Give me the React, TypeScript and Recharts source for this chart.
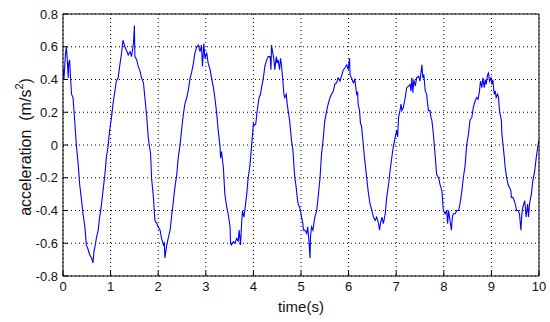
import React from 'react';
import { LineChart, Line, XAxis, YAxis, CartesianGrid, Label } from 'recharts';

// time (s)
const time = [
  0.00, 0.02, 0.05, 0.07, 0.09, 0.11, 0.12, 0.14, 0.16, 0.18, 0.21, 0.25, 0.28, 0.32, 0.35, 0.39, 0.42, 0.46, 0.49, 0.53,
  0.56, 0.60, 0.63, 0.65, 0.68, 0.70, 0.74, 0.77, 0.81, 0.84, 0.88, 0.91, 0.95, 0.98, 1.02, 1.05, 1.09, 1.12, 1.16, 1.19,
  1.23, 1.26, 1.30, 1.33, 1.37, 1.41, 1.44, 1.48, 1.50, 1.51, 1.55, 1.58, 1.62, 1.65, 1.69, 1.72, 1.76, 1.79, 1.81, 1.84,
  1.86, 1.90, 1.93, 1.97, 2.00, 2.04, 2.07, 2.11, 2.13, 2.14, 2.18, 2.21, 2.25, 2.28, 2.32, 2.35, 2.39, 2.42, 2.46, 2.49,
  2.53, 2.56, 2.60, 2.63, 2.67, 2.70, 2.74, 2.77, 2.81, 2.84, 2.88, 2.91, 2.93, 2.96, 2.98, 3.02, 3.05, 3.09, 3.12, 3.16,
  3.19, 3.23, 3.26, 3.30, 3.31, 3.33, 3.37, 3.40, 3.44, 3.47, 3.51, 3.52, 3.54, 3.58, 3.61, 3.65, 3.68, 3.70, 3.73, 3.75,
  3.77, 3.80, 3.82, 3.86, 3.89, 3.93, 3.96, 4.00, 4.02, 4.05, 4.08, 4.12, 4.15, 4.17, 4.21, 4.24, 4.28, 4.31, 4.35, 4.37,
  4.38, 4.41, 4.43, 4.45, 4.48, 4.50, 4.52, 4.55, 4.57, 4.59, 4.62, 4.64, 4.66, 4.69, 4.71, 4.73, 4.76, 4.78, 4.80, 4.83,
  4.85, 4.87, 4.90, 4.92, 4.94, 4.97, 4.99, 5.01, 5.04, 5.05, 5.08, 5.12, 5.14, 5.16, 5.19, 5.20, 5.22, 5.25, 5.27, 5.29,
  5.33, 5.36, 5.40, 5.43, 5.47, 5.50, 5.54, 5.57, 5.61, 5.64, 5.68, 5.71, 5.75, 5.78, 5.82, 5.85, 5.89, 5.92, 5.96, 5.99,
  6.02, 6.03, 6.06, 6.10, 6.13, 6.17, 6.19, 6.20, 6.23, 6.25, 6.27, 6.31, 6.33, 6.35, 6.38, 6.41, 6.45, 6.49, 6.52, 6.56,
  6.59, 6.63, 6.65, 6.67, 6.70, 6.73, 6.77, 6.80, 6.84, 6.87, 6.91, 6.94, 6.98, 7.01, 7.03, 7.05, 7.08, 7.10, 7.12, 7.15,
  7.19, 7.22, 7.26, 7.29, 7.31, 7.33, 7.35, 7.37, 7.40, 7.43, 7.47, 7.50, 7.54, 7.56, 7.58, 7.61, 7.64, 7.66, 7.68, 7.71,
  7.73, 7.75, 7.78, 7.80, 7.82, 7.85, 7.89, 7.92, 7.96, 7.99, 8.03, 8.06, 8.08, 8.10, 8.13, 8.16, 8.18, 8.20, 8.24, 8.27,
  8.31, 8.34, 8.38, 8.41, 8.45, 8.48, 8.52, 8.55, 8.59, 8.62, 8.66, 8.69, 8.72, 8.75, 8.77, 8.80, 8.82, 8.85, 8.87, 8.89,
  8.92, 8.94, 8.96, 8.99, 9.01, 9.03, 9.06, 9.08, 9.10, 9.13, 9.15, 9.17, 9.21, 9.22, 9.24, 9.27, 9.29, 9.32, 9.35, 9.38,
  9.41, 9.42, 9.45, 9.48, 9.50, 9.53, 9.56, 9.59, 9.62, 9.64, 9.66, 9.70, 9.73, 9.76, 9.78, 9.80, 9.84, 9.87, 9.91, 9.94,
  9.98, 10.00,
];

// acceleration (m/s^2)
const accel = [
  0.47, 0.40, 0.55, 0.60, 0.52, 0.41, 0.50, 0.52, 0.40, 0.31, 0.29, 0.13, 0.00, -0.12, -0.24, -0.34, -0.42, -0.50, -0.61, -0.64,
  -0.67, -0.69, -0.72, -0.65, -0.61, -0.57, -0.52, -0.44, -0.36, -0.28, -0.18, -0.08, 0.00, 0.09, 0.17, 0.25, 0.33, 0.39, 0.41, 0.48,
  0.56, 0.64, 0.60, 0.58, 0.55, 0.57, 0.54, 0.62, 0.73, 0.54, 0.52, 0.48, 0.45, 0.41, 0.38, 0.29, 0.17, 0.05, 0.00, -0.05,
  -0.20, -0.32, -0.46, -0.48, -0.50, -0.52, -0.57, -0.61, -0.60, -0.69, -0.61, -0.57, -0.52, -0.44, -0.34, -0.26, -0.18, -0.08, 0.00, 0.09,
  0.19, 0.25, 0.29, 0.33, 0.41, 0.44, 0.50, 0.56, 0.60, 0.61, 0.57, 0.61, 0.48, 0.62, 0.53, 0.56, 0.50, 0.46, 0.41, 0.35,
  0.29, 0.19, 0.09, -0.01, -0.08, -0.04, -0.14, -0.30, -0.38, -0.42, -0.50, -0.60, -0.61, -0.59, -0.60, -0.57, -0.59, -0.52, -0.61, -0.49,
  -0.40, -0.44, -0.40, -0.30, -0.20, -0.12, -0.01, 0.13, 0.12, 0.13, 0.21, 0.29, 0.31, 0.35, 0.41, 0.48, 0.52, 0.54, 0.54, 0.46,
  0.61, 0.56, 0.52, 0.46, 0.54, 0.50, 0.52, 0.46, 0.53, 0.49, 0.39, 0.31, 0.29, 0.31, 0.25, 0.21, 0.15, 0.09, 0.03, -0.03,
  -0.12, -0.20, -0.26, -0.32, -0.36, -0.38, -0.40, -0.44, -0.48, -0.52, -0.52, -0.54, -0.50, -0.56, -0.69, -0.56, -0.50, -0.52, -0.48, -0.44,
  -0.40, -0.32, -0.20, -0.06, 0.05, 0.15, 0.21, 0.25, 0.29, 0.31, 0.33, 0.37, 0.38, 0.41, 0.39, 0.42, 0.46, 0.47, 0.49, 0.46,
  0.53, 0.43, 0.41, 0.38, 0.40, 0.31, 0.32, 0.25, 0.21, 0.13, 0.12, 0.00, -0.07, -0.12, -0.20, -0.28, -0.36, -0.40, -0.44, -0.46,
  -0.44, -0.48, -0.52, -0.48, -0.44, -0.48, -0.42, -0.32, -0.24, -0.16, -0.07, -0.01, 0.05, 0.09, 0.05, 0.17, 0.21, 0.25, 0.21, 0.23,
  0.29, 0.35, 0.36, 0.37, 0.33, 0.41, 0.32, 0.40, 0.36, 0.41, 0.42, 0.39, 0.49, 0.41, 0.43, 0.33, 0.31, 0.25, 0.21, 0.21,
  0.17, 0.15, 0.07, 0.00, -0.07, -0.18, -0.20, -0.24, -0.28, -0.40, -0.42, -0.40, -0.48, -0.40, -0.46, -0.52, -0.44, -0.42, -0.42, -0.40,
  -0.40, -0.36, -0.28, -0.20, -0.12, 0.00, 0.07, 0.15, 0.17, 0.23, 0.27, 0.29, 0.28, 0.33, 0.39, 0.35, 0.41, 0.35, 0.40, 0.37,
  0.43, 0.44, 0.39, 0.41, 0.37, 0.40, 0.31, 0.33, 0.29, 0.31, 0.29, 0.21, 0.15, 0.07, 0.01, -0.07, -0.14, -0.20, -0.24, -0.26,
  -0.28, -0.32, -0.32, -0.34, -0.36, -0.40, -0.40, -0.42, -0.52, -0.42, -0.38, -0.34, -0.44, -0.36, -0.44, -0.36, -0.30, -0.22, -0.16, -0.08,
  0.00, 0.03,
];

const xTicks = [0, 1, 2, 3, 4, 5, 6, 7, 8, 9, 10];
const yTicks = [-0.8, -0.6, -0.4, -0.2, 0, 0.2, 0.4, 0.6, 0.8];

const rows = time.map((t, i) => ({ t, a: accel[i] }));

const font = 'Arial, "Liberation Sans", sans-serif';
const tickStyle = { fontSize: 13, fill: '#111', fontFamily: font };

function AccelLabel(props: any) {
  const vb = props.viewBox || { x: 0, y: 0, width: 0, height: 0 };
  const cx = vb.x + 22;
  const cy = vb.y + vb.height / 2 + 2;
  return (
    <text
      x={cx} y={cy}
      transform={`rotate(-90, ${cx}, ${cy})`}
      textAnchor="middle" dominantBaseline="central"
      fontSize={16} fill="#111" fontFamily={font}
    >
      acceleration{'\u00a0\u00a0'}(m/s<tspan dy={-6} fontSize={11}>2</tspan><tspan dy={6}>)</tspan>
    </text>
  );
}

export default function App() {
  return (
    <div style={{ position: 'absolute', left: 0, top: 0, width: 550, height: 322, background: '#fff' }}>
      <LineChart width={550} height={322} data={rows} margin={{ top: 13, right: 10, bottom: 16, left: 3 }}>
        <CartesianGrid stroke="#000" strokeDasharray="1 3" />
        <XAxis
          dataKey="t" type="number" domain={[0, 10]} ticks={xTicks} allowDataOverflow
          height={30} stroke="#000" tickSize={-5} tickMargin={11} tick={tickStyle}
        >
          <Label value="time(s)" position="insideBottom" offset={-6} style={{ fontSize: 15, fill: '#111', fontFamily: font }} />
        </XAxis>
        <XAxis
          xAxisId="top" orientation="top" type="number" domain={[0, 10]} ticks={xTicks} allowDataOverflow
          height={1} stroke="#000" tickSize={-5} tick={false}
        />
        <YAxis
          type="number" domain={[-0.8, 0.8]} ticks={yTicks} allowDataOverflow
          width={60} stroke="#000" tickSize={-5} tickMargin={10} tick={tickStyle}
        >
          <Label content={<AccelLabel />} />
        </YAxis>
        <YAxis
          yAxisId="right" orientation="right" type="number" domain={[-0.8, 0.8]} ticks={yTicks} allowDataOverflow
          width={1} stroke="#000" tickSize={-5} tick={false}
        />
        <Line
          dataKey="a" type="linear" stroke="#0000ff" strokeWidth={1.1}
          dot={false} isAnimationActive={false}
        />
      </LineChart>
    </div>
  );
}
